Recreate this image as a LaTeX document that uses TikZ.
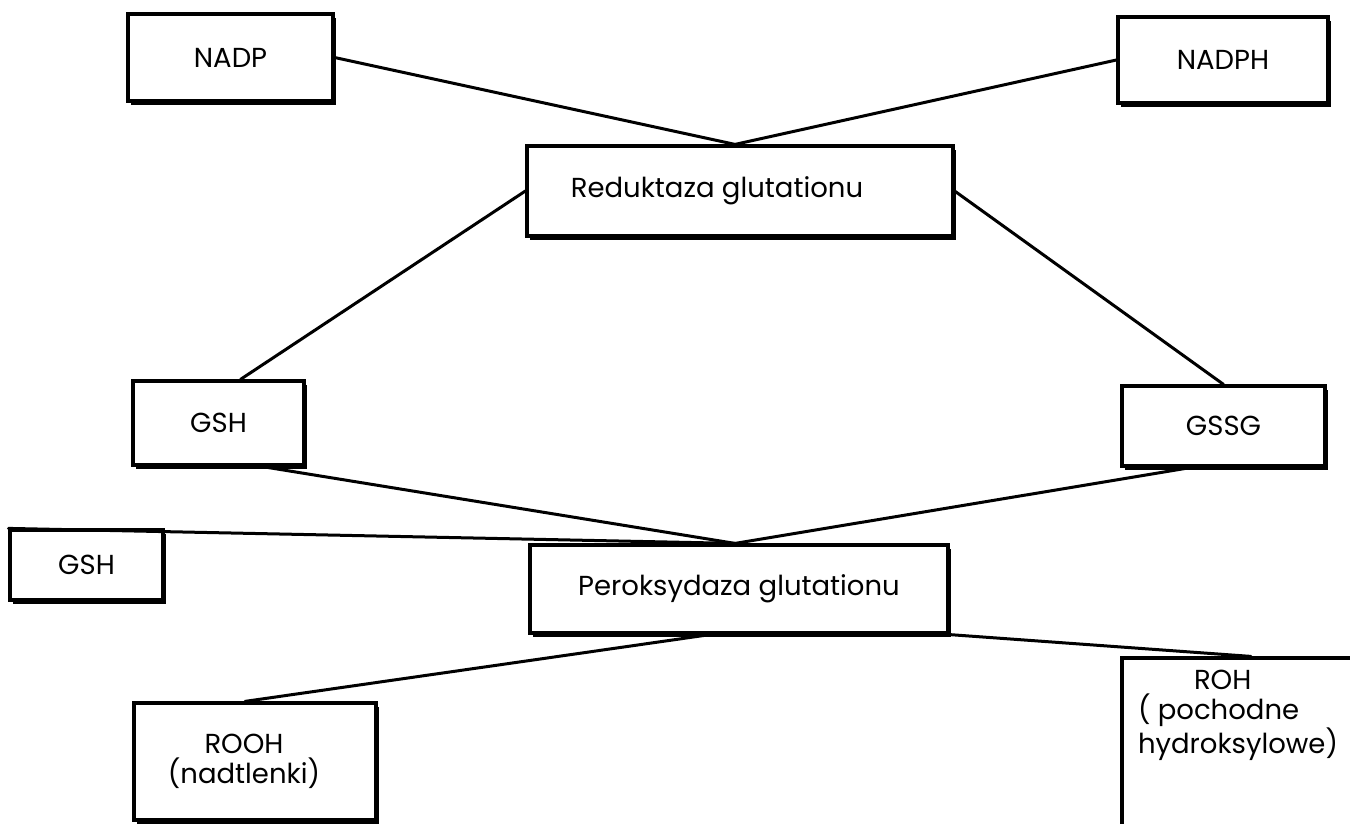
\documentclass[tikz,border=0pt]{standalone}
\usepackage{fontspec}
\setmainfont{Poppins}
\usetikzlibrary{shadows,calc}
\begin{document}
\begin{tikzpicture}[x=1pt,y=-1pt,
  box/.style={draw=black, line width=3.2pt, fill=white, inner sep=0pt,
    font=\fontsize{27.5}{30}\selectfont,
    drop shadow={shadow xshift=2.5pt, shadow yshift=-4pt, fill=black, opacity=1}},
  conn/.style={line width=3pt, line cap=round}]
\useasboundingbox (0,0) rectangle (1350,824);
\begin{scope}
\clip (0,0) rectangle (1350,824);
\node[box, minimum width=205pt, minimum height=87pt] (nadp) at (230.5,57.5) {NADP};
\node[box, minimum width=210pt, minimum height=86pt] (nadph) at (1223,60) {NADPH};
\node[box, minimum width=426pt, minimum height=90pt] (red) at (740,191) {\hspace*{-46pt}Reduktaza glutationu};
\node[box, minimum width=171pt, minimum height=84pt] (gsh1) at (218.5,423) {GSH};
\node[box, minimum width=203pt, minimum height=80pt] (gssg) at (1223.5,426) {GSSG};
\node[box, minimum width=153pt, minimum height=70pt] (gsh2) at (86.5,565) {GSH};
\node[box, minimum width=418pt, minimum height=88pt] (per) at (739,589) {Peroksydaza glutationu};
\node[box, minimum width=242pt, minimum height=117pt, align=center] (rooh) at (255,761.5) {ROOH\hspace*{22pt}\\(nadtlenki)\hspace*{22pt}};
\node[box, minimum width=232pt, minimum height=170pt, align=left] (roh) at (1238,743) {\hspace*{56pt}ROH\\( pochodne\\hydroksylowe)\\[32pt]};
\end{scope}
\coordinate (rtop) at ($(red.north)+(-5,0)$);
\coordinate (ptop) at ($(per.north)+(-4,0)$);
\draw[conn] (nadp.east) -- (rtop);
\draw[conn] (nadph.west) -- (rtop);
\draw[conn] (red.west) -- ($(gsh1.north)+(22,0)$);
\draw[conn] (red.east) -- (gssg.north);
\draw[conn] ($(gsh1.south)+(44,0)$) -- (ptop);
\draw[conn] ($(gssg.south)+(-33,0)$) -- (ptop);
\draw[conn] (gsh2.north west) -- (ptop);
\draw[conn] ($(per.south)+(-29,0)$) -- ($(rooh.north)+(-10,0)$);
\draw[conn] (per.south east) -- ($(roh.north)+(13,0)$);
\end{tikzpicture}
\end{document}
